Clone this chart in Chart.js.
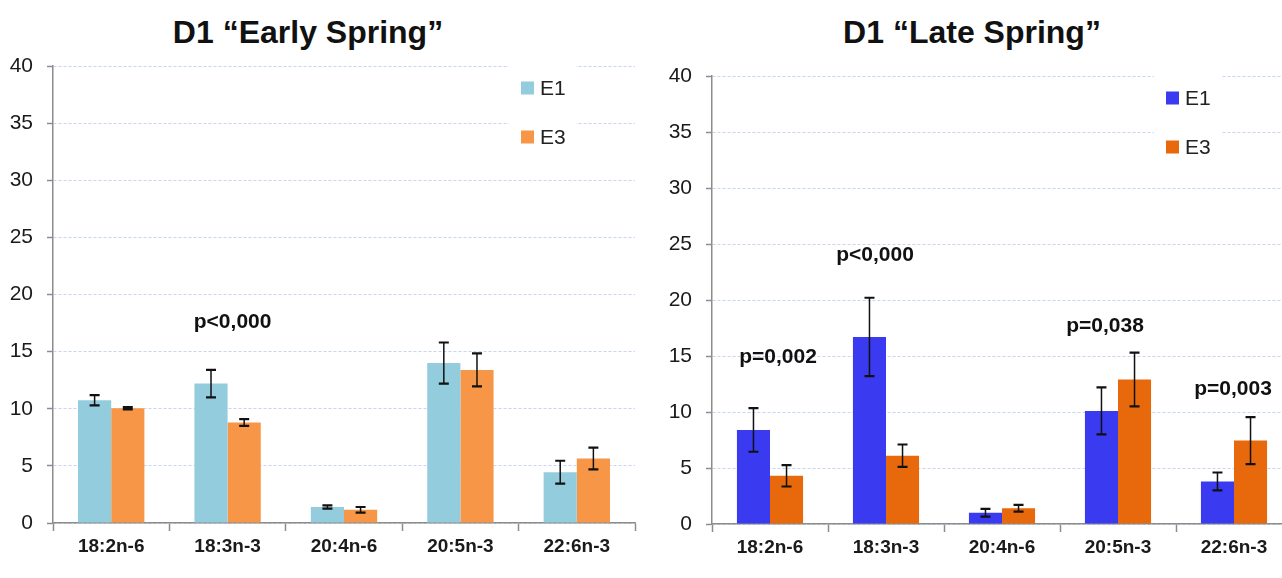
<!DOCTYPE html>
<html>
<head>
<meta charset="utf-8">
<script src="https://cdn.jsdelivr.net/npm/chart.js@4.4.1/dist/chart.umd.min.js"></script>
<style>
  body { margin: 0; background: #fff; overflow: hidden; width: 1282px; height: 578px; position: relative; font-family: "Liberation Sans", Arial, sans-serif; }
  .panel { position: absolute; top: 0; height: 578px; }
  .title { position: absolute; top: 14px; font-weight: bold; font-size: 32px; color: #111; text-align: center; white-space: nowrap; width: 400px; }
</style>
</head>
<body>
<div class="title" style="left:108px">D1 “Early Spring”</div>
<div class="title" style="left:772px">D1 “Late Spring”</div>
<div class="panel" style="left:0;width:640px"><canvas id="early" width="640" height="578"></canvas></div>
<div class="panel" style="left:640px;width:660px"><canvas id="late" width="660" height="578"></canvas></div>
<script>
const acids = ['18:2n-6', '18:3n-3', '20:4n-6', '20:5n-3', '22:6n-3'];
const yTicksMax = 40;
const yTicksStep = 5;

// early spring
const earlyE1 = [10.75, 12.2, 1.4, 14.0, 4.45];
const earlyE1Err = [0.45, 1.2, 0.15, 1.8, 1.0];
const earlyE3 = [10.05, 8.8, 1.15, 13.4, 5.65];
const earlyE3Err = [0.1, 0.3, 0.25, 1.45, 0.95];
const earlyPIndex = [1];
const earlyPValue = [17.6];
const earlyPText = ['p<0,000'];

// late spring
const lateE1 = [8.4, 16.7, 1.0, 10.1, 3.8];
const lateE1Err = [1.95, 3.5, 0.35, 2.1, 0.8];
const lateE3 = [4.3, 6.1, 1.4, 12.9, 7.45];
const lateE3Err = [0.95, 1.0, 0.3, 2.4, 2.1];
const latePIndex = [0, 1, 3, 4];
const latePValue = [14.9, 24.0, 17.7, 12.0];
const latePText = ['p=0,002', 'p<0,000', 'p=0,038', 'p=0,003'];

const FONT = '"Liberation Sans", Arial, sans-serif';
const AXIS_GREY = '#8c8c8c';

// vertical error whiskers on top of each bar
const errorBars = {
  id: 'errorBars',
  afterDatasetsDraw(chart) {
    const { ctx } = chart;
    const y = chart.scales.y;
    ctx.save();
    ctx.strokeStyle = '#111';
    chart.data.datasets.forEach((ds, i) => {
      chart.getDatasetMeta(i).data.forEach((bar, j) => {
        const v = ds.data[j], e = ds.errors[j];
        const top = y.getPixelForValue(v + e);
        const bot = y.getPixelForValue(v - e);
        ctx.lineWidth = 1.5;
        ctx.beginPath();
        ctx.moveTo(bar.x, top); ctx.lineTo(bar.x, bot);
        ctx.stroke();
        ctx.lineWidth = 2.2;
        ctx.beginPath();
        ctx.moveTo(bar.x - 5, top); ctx.lineTo(bar.x + 5, top);
        ctx.moveTo(bar.x - 5, bot); ctx.lineTo(bar.x + 5, bot);
        ctx.stroke();
      });
    });
    ctx.restore();
  }
};

// significance labels placed on the category/value scales
const pLabels = {
  id: 'pLabels',
  afterDatasetsDraw(chart, args, opts) {
    const { ctx } = chart;
    const xs = chart.scales.x, ys = chart.scales.y;
    ctx.save();
    ctx.font = 'bold 21px ' + FONT;
    ctx.fillStyle = '#111';
    ctx.textAlign = 'center';
    ctx.textBaseline = 'middle';
    opts.texts.forEach((t, k) => {
      ctx.fillText(t, xs.getPixelForValue(opts.index[k]) + opts.shift[k], ys.getPixelForValue(opts.values[k]));
    });
    ctx.restore();
  }
};

// legend box sitting inside the plot, over the grid
const boxLegend = {
  id: 'boxLegend',
  afterDraw(chart, args, opts) {
    const { ctx, chartArea } = chart;
    const x = chartArea.right - opts.fromRight;
    ctx.save();
    ctx.fillStyle = '#fff';
    ctx.fillRect(x - 12, chartArea.top - 8, 67, 92);
    ctx.font = '21px ' + FONT;
    ctx.textBaseline = 'middle';
    chart.data.datasets.forEach((ds, i) => {
      const y = chartArea.top + 22 + i * 49;
      ctx.fillStyle = ds.backgroundColor;
      ctx.fillRect(x, y - 6.5, 13, 13);
      ctx.fillStyle = '#222';
      ctx.fillText(ds.label, x + 19, y + 1);
    });
    ctx.restore();
  }
};

function makeChart(id, e1, e1Err, e3, e3Err, colors, p, layout) {
  return new Chart(document.getElementById(id), {
    type: 'bar',
    data: {
      labels: acids,
      datasets: [
        { label: 'E1', data: e1, errors: e1Err, backgroundColor: colors[0] },
        { label: 'E3', data: e3, errors: e3Err, backgroundColor: colors[1] }
      ]
    },
    options: {
      responsive: false,
      animation: false,
      categoryPercentage: 0.57,
      barPercentage: 1.0,
      layout: { padding: { top: layout.top, right: layout.right, bottom: layout.bottom, left: 0 } },
      plugins: {
        legend: { display: false },
        tooltip: { enabled: false },
        pLabels: p,
        boxLegend: { fromRight: layout.legendRight }
      },
      scales: {
        x: {
          afterFit: s => { s.height = 44; },
          border: { display: true, color: AXIS_GREY, width: 1.5 },
          grid: { display: true, drawOnChartArea: false, drawTicks: true, tickLength: 8, tickColor: AXIS_GREY, tickWidth: 1.5 },
          ticks: { color: '#1a1a1a', padding: 4, font: { family: FONT, size: 19, weight: 'bold' } }
        },
        y: {
          min: 0,
          max: yTicksMax,
          afterFit: s => { s.width = layout.axisWidth; },
          border: { display: true, color: AXIS_GREY, width: 1.5, dash: [3, 2] },
          grid: { color: '#c7d5f0', lineWidth: 1, tickLength: 6, tickColor: AXIS_GREY, tickWidth: 1.5 },
          ticks: { stepSize: yTicksStep, color: '#1a1a1a', padding: 14, font: { family: FONT, size: 21 } }
        }
      }
    },
    plugins: [errorBars, pLabels, boxLegend]
  });
}

makeChart('early', earlyE1, earlyE1Err, earlyE3, earlyE3Err, ['#93cddd', '#f79646'],
  { index: earlyPIndex, values: earlyPValue, texts: earlyPText, shift: [5] },
  { top: 66, right: 5, bottom: 11, axisWidth: 53, legendRight: 114 });

makeChart('late', lateE1, lateE1Err, lateE3, lateE3Err, ['#3a3af0', '#e8690b'],
  { index: latePIndex, values: latePValue, texts: latePText, shift: [8, -11, -13, -1] },
  { top: 76, right: 8, bottom: 10, axisWidth: 72, legendRight: 126 });
</script>
</body>
</html>
